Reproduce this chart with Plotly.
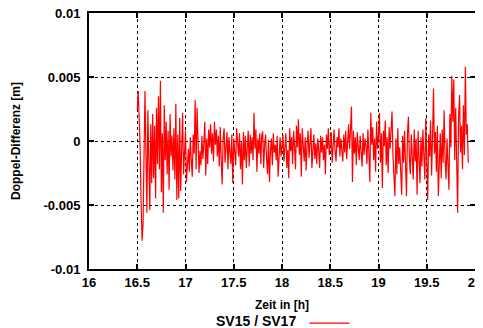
import plotly.graph_objects as go

# sampling start / interval of the Doppler differences (hours)
t_start = 16.50
t_step = 0.01

# Doppler difference SV15 / SV17, in millimetres
diff_mm = [
    2.5, 3.9, 1.8, -0.5, -4.8, -7.8, -6.5, 1.2, 3.9, -1.0,
    -5.6, 2.4, -3.5, -5.4, 1.3, -3.3, 2.1, -2.9, 1.2, -4.5,
    2.6, -1.8, 3.5, -2.2, 4.7, -4.0, 0.6, -5.6, 2.8, -1.5,
    1.5, -2.6, 0.8, -3.8, 2.1, -1.2, 0.4, -2.3, 1.0, -3.0,
    2.9, -4.6, 0.5, -4.5, 1.8, -3.9, -0.8, 2.2, -2.6, -1.0,
    0.8, -3.2, -1.2, -0.6, -2.4, 0.3, -1.5, -2.8, 0.5, -1.0,
    3.2, -2.2, 2.6, -0.5, -2.5, -0.8, -1.9, 0.4, -1.4, -0.2,
    1.5, -2.7, 0.2, -1.8, 0.9, -0.5, 1.3, -1.0, 0.6, -1.6,
    1.5, -0.3, 0.9, -1.2, 0.4, -2.0, 1.1, -1.5, -3.4, 0.2,
    1.0, -1.7, -0.6, 0.7, -2.2, 0.3, -0.9, -1.8, 0.5, -3.3,
    0.2, -0.8, -1.9, 1.0, -0.4, -1.2, 0.6, -2.2, -0.1, -3.4,
    0.7, -1.5, 0.4, -2.1, -0.5, 0.8, -2.0, 0.5, -1.0, 0.3,
    -1.5, 2.2, -0.6, 0.9, -2.4, 0.2, -1.0, 0.6, -1.8, 0.4,
    0.75, -2.1, -0.3, 0.5, -1.4, -2.6, 0.1, -3.2, -0.8, 0.2,
    -1.9, 0.6, -0.9, -0.3, -1.5, 0.4, -2.8, -0.6, 0.3, -1.2,
    -0.4, 0.5, -1.6, -0.2, 0.6, -2.1, -0.7, -2.9, 1.0, -0.8,
    0.3, -1.8, 0.8, -0.4, -2.2, 1.2, -0.5, 1.7, -1.1, 0.6,
    -2.8, 1.0, -0.8, -1.6, 0.3, -2.3, -0.3, 0.8, -1.3, 0.1,
    1.0, -2.1, -0.5, 0.5, -1.4, -0.2, -1.8, 0.2, -0.7, -2.1,
    0.4, -0.9, 0.3, -1.5, -0.3, -2.6, 0.5, -0.6, 1.0, -1.1,
    -0.2, 0.7, -1.7, -0.4, 0.9, -0.8, -1.6, 0.3, -0.5, 1.0,
    -1.2, 0.2, -0.6, -1.6, 0.5, -0.9, 0.8, -1.4, -0.1, 1.3,
    -0.6, 0.6, 2.7, -3.2, 0.8, -1.0, 0.3, -1.9, 0.7, -0.5,
    -1.5, 0.4, -0.7, -2.0, 0.6, -1.1, 0.2, -0.4, -1.8, 0.9,
    -0.9, -3.2, 2.2, -0.3, 1.1, -1.5, 0.2, -2.4, 1.5, -0.6,
    0.5, 2.2, -1.7, 0.6, -3.7, 0.8, -0.4, 1.6, -1.9, 0.3,
    -2.5, 1.1, -0.6, 1.4, 2.3, -1.2, -3.5, -4.3, 0.2, -2.6,
    1.0, -1.8, -0.5, -3.2, -4.2, 0.4, -1.7, 0.8, -2.9, -4.3,
    0.6, 1.9, -1.3, -2.6, 0.5, -0.8, -3.0, 0.9, -1.6, 0.2,
    -4.2, 0.8, -1.1, -3.3, 0.3, -2.0, 0.9, -1.5, -3.0, 1.8,
    -2.2, -4.6, 0.5, -1.2, 1.6, -2.7, 0.4, 4.1, -1.0, 0.7,
    -2.4, 1.2, -4.3, -0.8, 0.6, -2.9, 0.9, -1.7, 2.4, -1.4,
    -3.0, 0.2, -1.8, -3.8, 2.1, -0.5, 5.1, 1.5, 4.8, -1.5,
    2.6, -3.6, -5.6, 1.9, 3.6, -0.9, 1.2, -2.2, 2.8, -1.1,
    5.8, 0.5, 1.3, -1.7,
]

series_name = "SV15 / SV17"
x_ticks = [16, 16.5, 17, 17.5, 18, 18.5, 19, 19.5, 20]
x_ticklabels = ["16", "16.5", "17", "17.5", "18", "18.5", "19", "19.5", "20"]
y_ticks = [0.01, 0.005, 0, -0.005, -0.01]
y_ticklabels = ["0.01", "0.005", "0", "-0.005", "-0.01"]

times = [t_start + i * t_step for i in range(len(diff_mm))]
diff_m = [v / 1000.0 for v in diff_mm]

font_family = "Liberation Sans, Arial, sans-serif"

fig = go.Figure()
fig.add_trace(go.Scatter(
    x=times, y=diff_m, mode="lines",
    line=dict(color="#ff0000", width=1.2),
    name="", showlegend=True,
))

axis_common = dict(
    showline=True, linecolor="black", linewidth=2, mirror="allticks",
    ticks="inside", ticklen=5, tickwidth=2, tickcolor="black",
    showgrid=True, gridcolor="black", gridwidth=1, griddash="dot",
    zeroline=False, automargin=False, ticklabeloverflow="allow",
    tickfont=dict(family=font_family, size=13, color="black", weight="bold"),
)

# the page body has an 8px margin, so the figure is sized to fit in the window
fig.update_layout(
    width=475, height=320,
    margin=dict(l=81, r=8, t=5, b=59, autoexpand=False),
    paper_bgcolor="white", plot_bgcolor="white",
    font=dict(family=font_family, color="black"),
    xaxis=dict(
        range=[16, 20], tickvals=x_ticks, ticktext=x_ticklabels,
        title=dict(text="<b>Zeit in [h]</b>", font=dict(size=12, family=font_family), standoff=12),
        **axis_common,
    ),
    yaxis=dict(
        range=[-0.01, 0.01], tickvals=y_ticks, ticktext=y_ticklabels,
        ticklabelstandoff=4,
        title=dict(text="<b>Doppel-Differenz [m]</b>", font=dict(size=12, family=font_family), standoff=20),
        **axis_common,
    ),
    legend=dict(
        orientation="h", x=0.513, xanchor="center", y=-0.153, yanchor="top",
        title=dict(text="<b>" + series_name + "</b>", side="left",
                   font=dict(size=14, family=font_family, color="black")),
        font=dict(size=13, family=font_family),
        itemwidth=40, bgcolor="rgba(0,0,0,0)",
    ),
)

fig.write_html("out.html")
